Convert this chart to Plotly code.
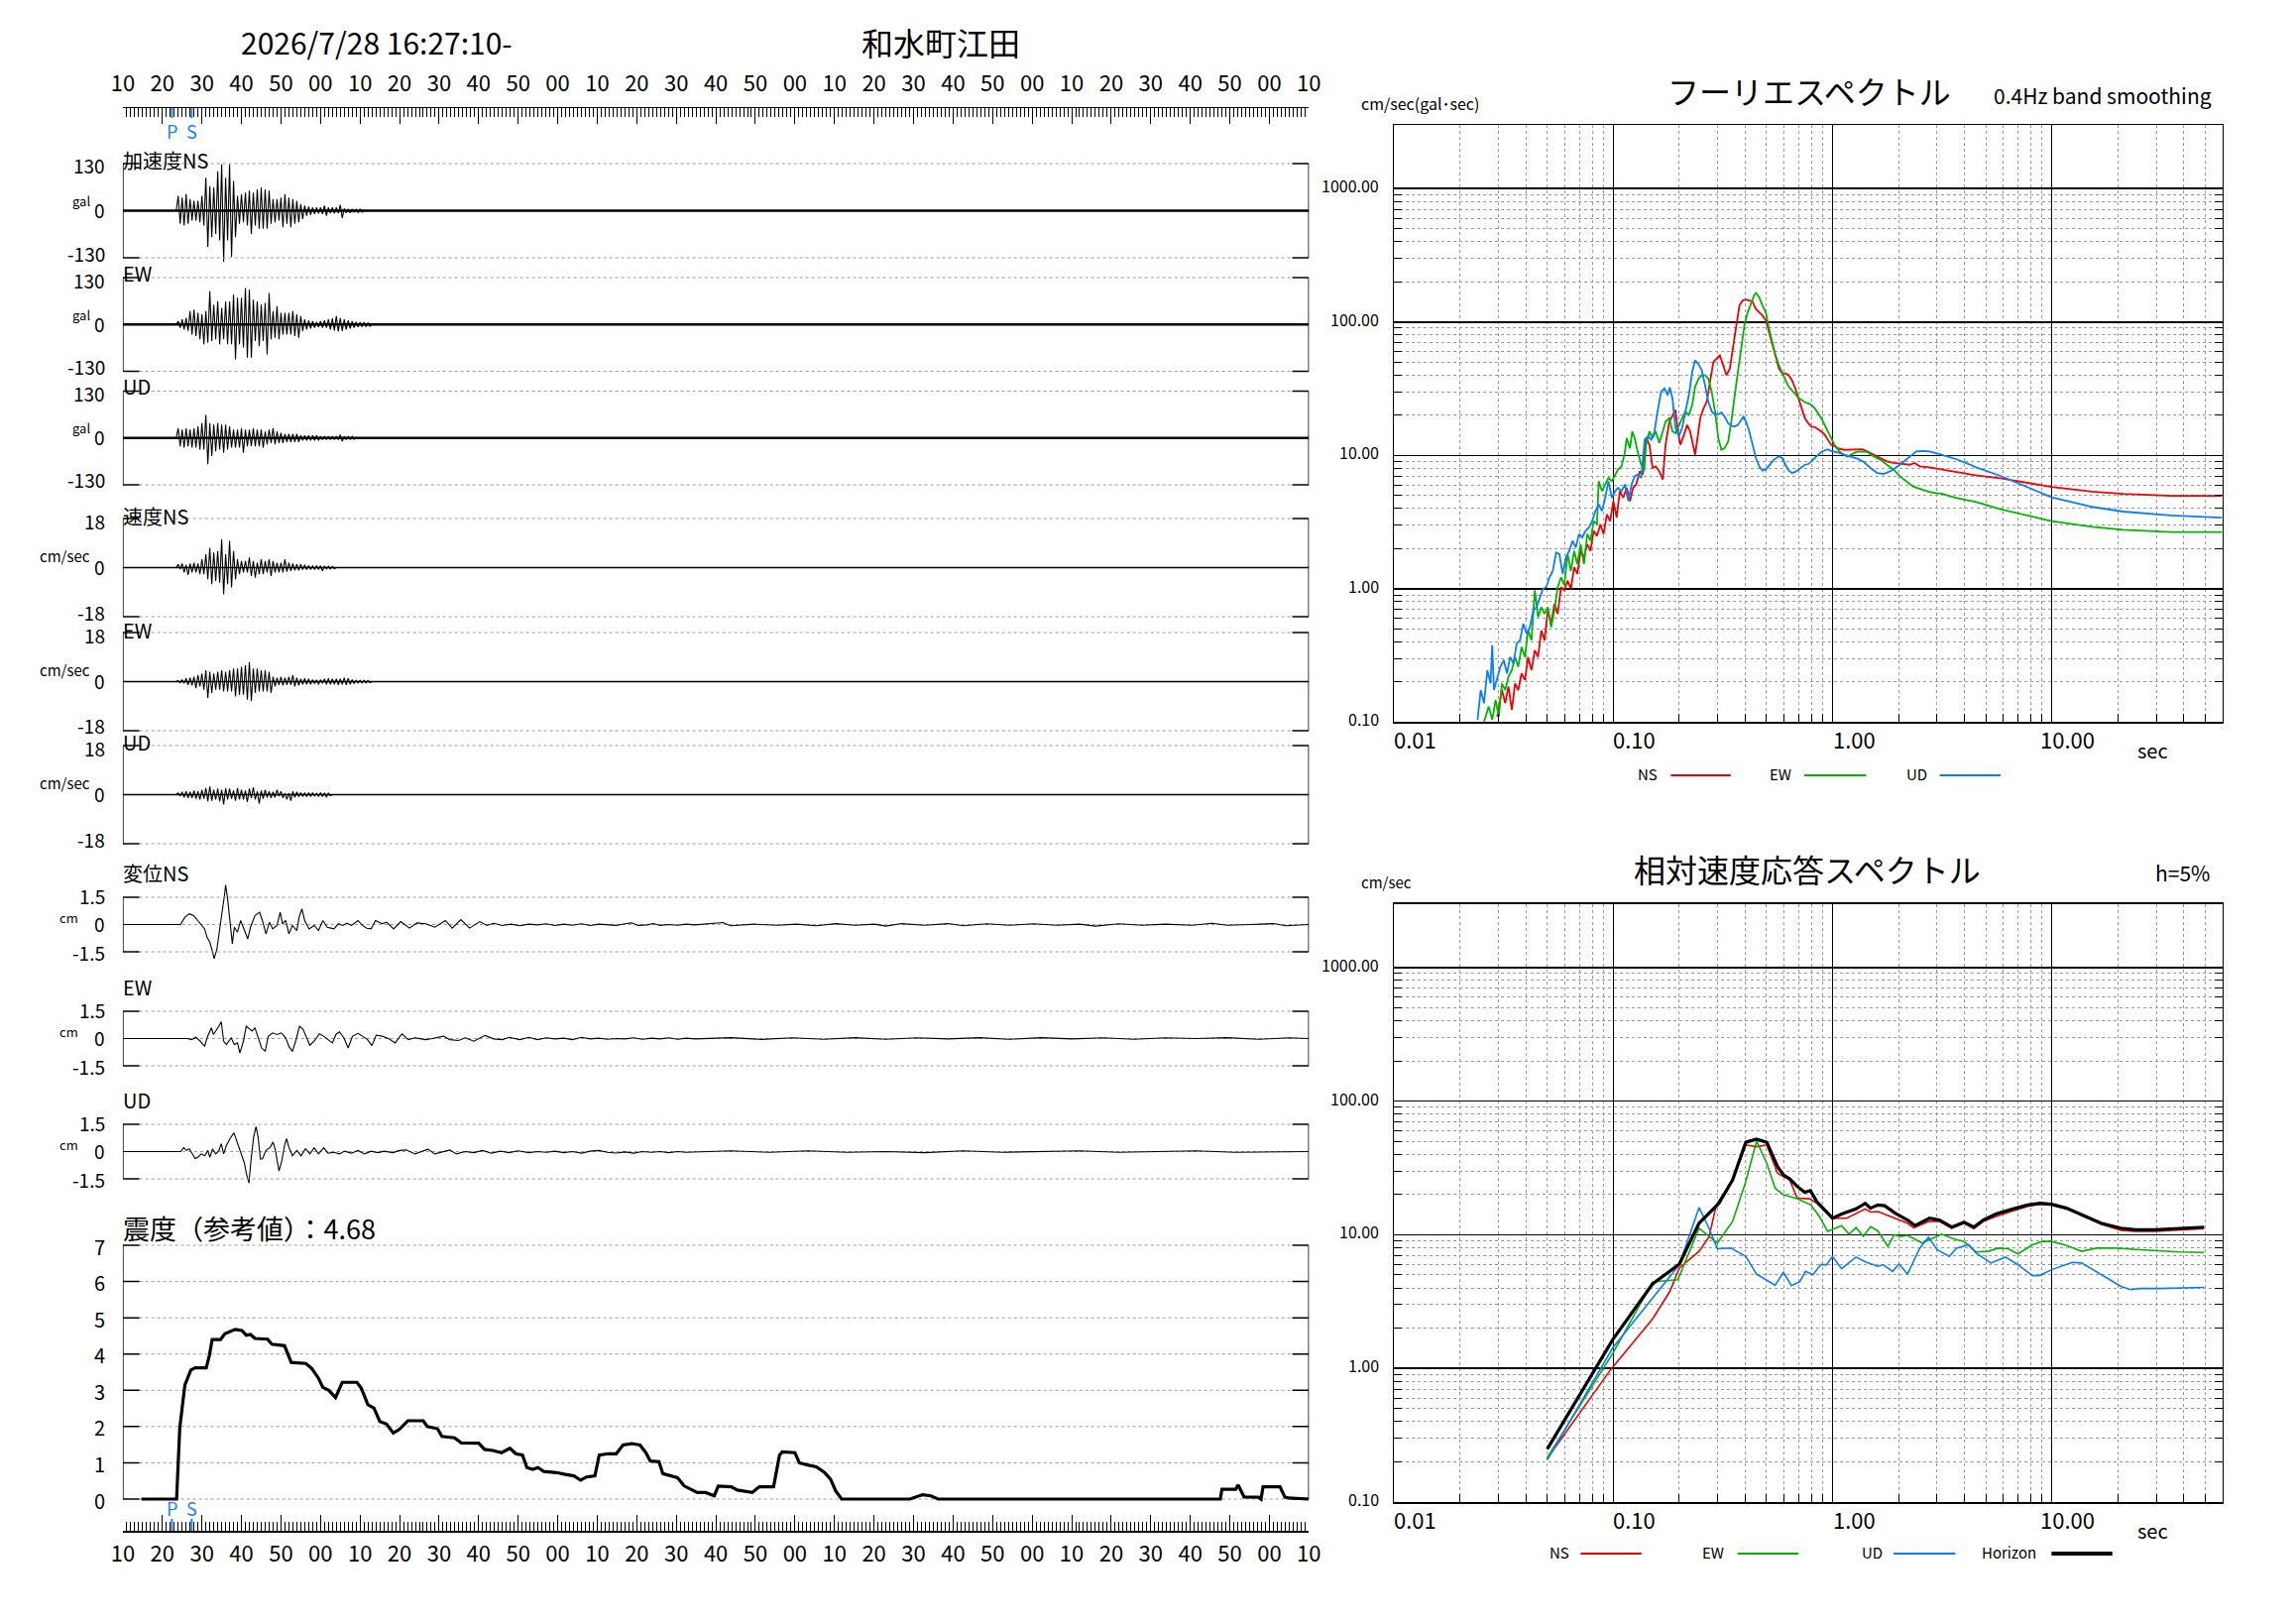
import math
import plotly.graph_objects as go

W, H = 2316, 1637          # browser window
OFF = 8                    # default body margin of the page
FW, FH = W - 2 * OFF, H - 2 * OFF
FONT = "Noto Sans CJK JP"

# ---------------- data ----------------
time_labels = ["10", "20", "30", "40", "50", "00"] * 5 + ["10"]   # 16:27:10 .. 16:32:10
p_arrival = 12.4   # s after 16:27:10
s_arrival = 17.4

burst_t0 = 14  # first second of the strong-motion part (peak per half second below)

acc_ns_hi = [41, 36, 46, 32, 27, 27, 41, 91, 68, 64, 109, 128, 91, 128, 82, 41, 46, 50, 55, 50, 59, 64, 59, 55,
             32, 32, 36, 46, 36, 32, 27, 18, 14, 11, 9, 9, 9, 14, 9, 9, 9, 16, 6, 5, 5, 4, 4]
acc_ns_lo = [-36, -41, -36, -27, -27, -32, -41, -100, -73, -64, -82, -141, -82, -128, -73, -36, -32, -41, -64, -41,
             -50, -50, -50, -36, -32, -27, -46, -36, -46, -36, -32, -23, -14, -11, -9, -8, -9, -14, -7, -8, -7, -20,
             -6, -6, -5, -5, -4]
acc_ew_hi = [9, 14, 18, 37, 41, 32, 28, 37, 92, 55, 64, 46, 64, 64, 83, 74, 74, 101, 97, 69, 64, 55, 60, 87, 37, 51,
             32, 32, 32, 37, 28, 23, 14, 11, 9, 7, 9, 11, 14, 17, 23, 18, 14, 11, 9, 7, 6, 6, 5]
acc_ew_lo = [-9, -14, -18, -28, -32, -41, -55, -51, -46, -41, -55, -41, -55, -55, -97, -55, -64, -92, -92, -46, -60,
             -46, -83, -41, -37, -41, -28, -28, -28, -32, -37, -18, -14, -11, -9, -7, -9, -9, -14, -17, -20, -18, -14,
             -11, -9, -7, -6, -6, -5]
acc_ud_hi = [27, 23, 27, 23, 27, 32, 41, 64, 41, 37, 41, 37, 37, 32, 23, 23, 27, 23, 23, 27, 23, 23, 18, 23, 27, 18,
             14, 11, 11, 11, 11, 7, 7, 7, 7, 7, 5, 5, 5, 5, 5, 9, 5, 4, 4]
acc_ud_lo = [-23, -27, -23, -27, -27, -32, -32, -73, -50, -37, -32, -41, -32, -27, -27, -27, -41, -23, -23, -23, -23,
             -27, -18, -14, -18, -14, -14, -11, -11, -11, -11, -7, -7, -7, -7, -7, -5, -5, -5, -5, -5, -9, -5, -4, -4]

vel_ns_hi = [1.2, 1.5, 1.0, 1.5, 1.8, 1.5, 3.1, 4.9, 7.3, 5.5, 6.1, 10.4, 4.9, 9.8, 6.1, 3.1, 2.4, 2.4, 3.7, 2.4,
             1.8, 3.1, 2.4, 3.1, 2.4, 1.8, 1.8, 3.1, 1.8, 1.5, 1.2, 1.2, 1.0, 0.7, 0.6, 0.6, 0.7, 0.6, 0.5, 0.4]
vel_ns_lo = [-0.6, -1.8, -2.7, -1.8, -1.8, -2.4, -2.4, -4.3, -6.1, -4.9, -5.5, -9.8, -6.1, -7.3, -4.3, -2.4, -1.8,
             -1.8, -3.1, -3.7, -2.4, -2.4, -1.8, -3.1, -1.8, -1.8, -1.8, -1.5, -1.2, -1.0, -1.0, -0.7, -0.7, -0.6,
             -0.6, -0.6, -1.2, -0.5, -0.5, -0.4]
vel_ew_hi = [0.4, 0.6, 1.2, 1.4, 1.8, 2.4, 3.0, 4.2, 3.6, 3.0, 3.6, 4.2, 3.6, 4.2, 4.8, 4.8, 5.4, 6.0, 7.2, 4.8,
             4.8, 4.2, 4.2, 3.6, 1.8, 1.4, 1.8, 1.4, 1.8, 2.4, 1.4, 1.0, 1.2, 1.0, 0.7, 0.6, 0.7, 1.0, 1.2, 1.0,
             1.0, 1.0, 1.4, 1.2, 0.7, 0.5, 0.5, 0.5, 0.4]
vel_ew_lo = [-0.4, -0.6, -1.2, -1.4, -2.4, -1.8, -3.0, -6.0, -4.2, -3.0, -3.0, -3.6, -3.6, -3.6, -5.4, -4.8, -4.8,
             -6.6, -7.2, -4.2, -3.6, -3.6, -3.6, -4.2, -1.8, -1.2, -1.4, -1.2, -1.2, -1.8, -1.4, -1.0, -1.0, -1.0,
             -0.7, -1.0, -0.6, -1.0, -1.0, -1.0, -1.2, -1.0, -1.2, -1.0, -0.7, -0.5, -0.5, -0.5, -0.4]
vel_ud_hi = [0.6, 1.0, 1.2, 1.0, 1.5, 1.2, 1.8, 2.4, 3.0, 1.8, 2.2, 1.8, 2.4, 2.2, 1.5, 2.4, 1.8, 1.5, 2.2, 2.7,
             1.2, 1.5, 1.8, 1.2, 1.0, 1.8, 1.2, 0.6, 0.6, 1.2, 1.0, 0.7, 0.6, 0.7, 0.6, 0.5, 0.7, 0.6, 0.5]
vel_ud_lo = [-0.5, -1.0, -1.2, -1.2, -1.5, -1.8, -1.5, -2.4, -2.2, -1.8, -2.4, -3.6, -1.8, -1.5, -2.2, -1.8, -1.8,
             -2.7, -1.2, -1.8, -3.3, -1.5, -1.0, -1.2, -1.0, -0.6, -1.2, -1.8, -2.2, -1.0, -0.7, -0.6, -0.7, -0.6,
             -0.5, -0.6, -0.7, -1.0, -0.4]

# displacement (time s, cm)
disp_ns = [(0, 0), (14.6, 0), (15.7, 0.40), (16.8, 0.59), (17.9, 0.49), (19.0, 0.22), (19.8, 0.04), (20.7, -0.24),
           (21.3, -0.70), (22.0, -0.97), (22.7, -1.52), (23.1, -1.88), (23.8, -1.34), (24.6, -0.24), (25.1, 0.68),
           (25.7, 1.59), (26.0, 2.18), (26.5, 1.41), (27.0, 0.31), (27.7, -1.06), (28.2, -0.15), (29.0, -0.42),
           (29.8, 0.22), (30.7, -0.24), (31.6, -0.79), (32.3, -0.15), (33.4, 0.49), (34.6, 0.68), (35.3, 0.22),
           (36.2, -0.51), (37.1, 0.13), (37.9, -0.24), (39.0, -0.05), (39.8, 0.68), (40.4, 0.04), (41.2, 0.22),
           (42.0, -0.51), (42.9, -0.05), (44.0, -0.33), (44.6, 0.40), (45.3, 0.86), (46.0, 0.22), (47.1, -0.24),
           (48.4, -0.05), (49.5, -0.33), (50.6, 0.22), (51.7, -0.15), (53.4, -0.24), (54.5, 0.04), (55.6, -0.05),
           (56.7, 0.07), (57.8, -0.05), (59.5, 0.22), (60.6, -0.05), (61.7, -0.20), (62.8, -0.24), (63.9, 0.22),
           (65.6, 0.04), (66.7, 0.13), (68.5, -0.24), (70.3, 0.16), (72.5, -0.20), (74.4, 0.09), (76.6, 0.04),
           (78.9, -0.15), (81.6, 0.22), (83.3, -0.20), (85.5, 0.27), (87.7, -0.20), (90.3, 0.16), (92.1, -0.05),
           (93.8, 0.07), (96.0, -0.05), (98.2, 0.02), (100.4, -0.07), (102.7, 0.02), (104.9, -0.02), (107.1, 0.04),
           (109.3, -0.05), (111.5, 0.02), (113.7, -0.04), (116.0, 0.04), (118.2, -0.05), (120.4, 0.02),
           (122.6, -0.02), (124.8, -0.05), (127.0, 0.04), (128.7, 0.09), (130.3, -0.05), (132.6, -0.02),
           (134.2, 0.05), (135.9, -0.05), (138.1, 0), (140.3, -0.04), (142.5, 0.02), (144.7, -0.02), (151.8, 0.11),
           (153.7, -0.07), (159.7, 0.02), (165.5, -0.04), (170.5, 0.02), (175.4, -0.07), (180.3, 0.05),
           (185.2, -0.04), (190.1, 0.02), (193.0, -0.09), (197.0, 0.05), (202.8, -0.04), (208.7, 0.05),
           (212.6, -0.07), (218.5, 0.04), (224.4, -0.04), (230.3, 0.04), (236.2, -0.04), (242.0, 0.02),
           (246.0, -0.09), (251.9, 0.04), (257.8, -0.04), (263.7, 0.02), (270.5, -0.04), (275.5, 0.07),
           (279.4, -0.04), (285.2, 0), (291.1, 0.05), (294.1, -0.07), (300, 0)]
disp_ew = [(0, 0), (16.3, 0), (17.4, -0.06), (18.5, 0.07), (19.6, -0.15), (20.7, -0.43), (21.3, 0.04), (21.8, 0.31),
           (22.4, 0.59), (22.9, 0.22), (23.5, 0.41), (24.3, 0.68), (24.9, 0.93), (25.5, -0.15), (26.2, -0.33),
           (27.4, 0.04), (28.2, -0.33), (29.0, -0.24), (29.6, -0.80), (30.5, -0.15), (31.2, 0.68), (31.8, 0.59),
           (32.7, 0.41), (33.4, 0.59), (34.2, 0.04), (35.1, -0.52), (36.0, -0.70), (36.8, 0.13), (37.9, 0.31),
           (39.0, 0.22), (40.1, 0.31), (41.2, 0.04), (42.0, -0.43), (42.9, -0.70), (43.7, -0.15), (44.7, 0.68),
           (45.6, 0.50), (46.4, 0.04), (47.3, -0.37), (48.4, -0.15), (49.7, 0.26), (50.8, 0.13), (51.9, -0.06),
           (53.0, -0.24), (53.9, 0.22), (54.8, 0.37), (55.9, 0.04), (57.0, -0.52), (58.1, 0.13), (59.5, 0.28),
           (60.6, 0.13), (61.9, -0.06), (63.0, -0.39), (64.1, 0.19), (65.6, 0.13), (67.2, 0), (68.9, -0.24),
           (70.6, 0.26), (72.2, -0.06), (73.9, 0.04), (75.5, -0.02), (76.6, -0.06), (78.3, 0), (81.1, 0.13),
           (82.7, -0.06), (84.9, -0.11), (86.6, 0.04), (88.8, -0.15), (91.6, 0.17), (93.8, -0.02), (96.0, -0.06),
           (97.7, 0.07), (100.4, -0.06), (102.7, 0.07), (104.9, -0.06), (107.1, 0.04), (109.3, -0.02),
           (111.5, 0.02), (113.7, -0.06), (116.0, 0.07), (118.2, -0.02), (120.4, 0.02), (122.6, -0.04),
           (124.8, 0), (127.0, -0.02), (129.2, 0.04), (131.4, -0.04), (133.7, 0.02), (135.9, -0.02), (138.1, 0.04),
           (140.3, -0.04), (142.5, 0.02), (144.7, -0.02), (153.7, 0.05), (161.6, -0.05), (169.4, 0.04),
           (177.3, -0.04), (185.2, 0.05), (193.0, -0.04), (200.9, 0.04), (208.7, -0.02), (216.6, 0.05),
           (224.4, -0.04), (232.3, 0.05), (240.1, -0.02), (248.0, 0.04), (255.8, -0.04), (263.7, 0.04),
           (271.5, 0), (279.4, 0.05), (287.2, -0.04), (295.1, 0.04), (300, 0)]
disp_ud = [(0, 0), (14.6, 0), (15.4, 0.21), (16.1, 0.06), (16.8, 0.15), (17.6, -0.13), (18.3, -0.38), (19.0, -0.32),
           (19.8, -0.13), (20.7, -0.23), (21.5, 0.06), (22.0, -0.32), (22.7, 0.15), (23.5, -0.13), (24.3, 0.06),
           (24.9, 0.43), (25.5, -0.13), (26.2, 0.34), (27.1, 0.71), (28.1, 1.03), (29.0, 0.43), (29.8, -0.13),
           (30.7, -0.60), (31.3, -1.26), (31.9, -1.73), (32.4, -0.51), (33.1, 0.81), (33.7, 1.37), (34.2, 0.81),
           (34.8, -0.41), (35.3, -0.41), (36.2, 0.06), (37.3, 0.24), (38.0, 0.53), (38.6, 0.06), (39.5, -1.07),
           (40.2, -0.51), (40.9, 0.34), (41.4, 0.71), (42.0, 0.24), (42.9, -0.23), (44.0, 0.06), (45.1, -0.23),
           (46.2, 0.15), (47.3, -0.13), (48.4, 0.21), (49.5, -0.13), (50.8, 0.21), (51.9, -0.09), (53.4, -0.04),
           (54.8, -0.13), (56.1, 0.02), (57.8, -0.09), (59.5, 0.06), (61.1, -0.13), (62.8, 0.02), (64.5, -0.06),
           (66.1, 0.02), (68.3, -0.06), (70.0, 0.06), (71.7, 0.09), (73.9, -0.13), (75.5, -0.02), (77.2, 0.13),
           (78.9, -0.13), (81.1, 0.02), (82.7, 0.09), (84.4, -0.13), (86.6, 0), (88.8, -0.06), (91.0, 0.06),
           (93.2, -0.09), (95.5, 0.02), (97.7, -0.06), (99.9, 0.04), (102.7, -0.06), (104.9, 0), (107.1, -0.04),
           (109.3, 0.02), (111.5, -0.06), (113.7, 0), (116.0, -0.09), (118.2, 0.02), (120.4, 0.06), (122.6, -0.04),
           (124.8, -0.08), (127.0, -0.02), (129.2, -0.09), (131.4, 0), (133.7, -0.04), (135.9, 0), (138.1, -0.06),
           (140.3, 0), (142.5, -0.04), (144.7, -0.02), (153.7, 0.04), (163.6, -0.04), (173.3, 0.04),
           (183.2, -0.04), (193.0, 0), (202.8, -0.06), (212.6, 0.04), (222.5, -0.04), (232.3, 0), (242.0, 0.04),
           (251.9, -0.04), (261.7, 0), (271.5, 0.04), (281.3, -0.04), (291.1, 0), (300, 0)]

# real-time seismic intensity
intensity_label = "震度（参考値）：4.68"
intensity_t = [4.7, 13.6, 14.4, 15.7, 17.2, 18.3, 21.1, 21.9, 22.6, 24.7, 25.8, 27.5, 28.4, 30.1, 31.2, 32.3, 33.4,
               36.6, 37.7, 40.9, 42.6, 46.3, 47.8, 49.5, 50.6, 52.1, 53.8, 55.5, 59.2, 60.3, 62.0, 63.5, 65.0, 66.7,
               68.4, 69.9, 72.1, 76.0, 77.0, 79.6, 80.7, 83.9, 85.6, 90.0, 91.5, 93.6, 95.8, 97.9, 99.4, 101.1,
               102.2, 103.7, 105.0, 106.5, 109.7, 111.9, 114.1, 115.8, 117.3, 119.4, 120.5, 122.7, 124.8, 126.5,
               128.7, 130.8, 132.3, 133.4, 135.6, 136.6, 138.8, 140.3, 142.0, 144.2, 145.3, 147.4, 149.6, 150.6,
               153.9, 155.4, 157.5, 159.2, 161.0, 164.6, 166.1, 166.8, 170.0, 171.1, 173.2, 175.4, 177.5, 179.0,
               180.3, 181.8, 199.1, 200.6, 202.3, 204.4, 206.2, 277.6, 278.0, 281.5, 282.1, 283.6, 287.3, 287.9,
               288.4, 292.7, 293.9, 294.8, 300]
intensity_v = [0, 0, 1.96, 3.15, 3.56, 3.62, 3.62, 3.97, 4.40, 4.40, 4.56, 4.65, 4.68, 4.65, 4.52, 4.54, 4.43, 4.41,
               4.27, 4.23, 3.77, 3.74, 3.60, 3.33, 3.08, 3.00, 2.80, 3.22, 3.22, 3.06, 2.60, 2.51, 2.14, 2.07, 1.82,
               1.92, 2.16, 2.16, 2.00, 1.94, 1.73, 1.69, 1.55, 1.54, 1.37, 1.34, 1.28, 1.40, 1.25, 1.21, 0.87, 0.82,
               0.87, 0.76, 0.73, 0.68, 0.64, 0.52, 0.61, 0.64, 1.21, 1.25, 1.25, 1.49, 1.53, 1.49, 1.28, 1.05, 1.03,
               0.70, 0.64, 0.59, 0.36, 0.25, 0.18, 0.18, 0.09, 0.36, 0.34, 0.25, 0.21, 0.18, 0.34, 0.34, 1.21, 1.30,
               1.28, 1.00, 0.94, 0.89, 0.73, 0.55, 0.23, 0, 0, 0.06, 0.12, 0.09, 0, 0, 0.27, 0.27, 0.39, 0.06, 0.05,
               0, 0.34, 0.34, 0.06, 0.03, 0]

# Fourier spectra (period s, cm/sec)
fourier_ns = [(0.0295, 0.110), (0.0310, 0.174), (0.0321, 0.139), (0.0332, 0.185), (0.0344, 0.124), (0.0356, 0.195),
              (0.0368, 0.174), (0.0381, 0.232), (0.0395, 0.207), (0.0408, 0.308), (0.0423, 0.245), (0.0438, 0.346),
              (0.0453, 0.308), (0.0469, 0.488), (0.0485, 0.411), (0.0502, 0.687), (0.0520, 0.547), (0.0538, 0.771),
              (0.0557, 0.649), (0.0577, 1.03), (0.0597, 0.975), (0.0618, 1.15), (0.0640, 1.00), (0.0662, 1.45),
              (0.0685, 1.29), (0.0709, 1.92), (0.0734, 1.72), (0.0760, 2.16), (0.0786, 1.92), (0.0813, 2.72),
              (0.0842, 2.49), (0.0872, 3.04), (0.0902, 2.57), (0.0934, 3.61), (0.0967, 3.22), (0.100, 4.54),
              (0.1035, 3.41), (0.107, 5.40), (0.111, 4.81), (0.115, 5.71), (0.119, 4.54), (0.123, 5.71),
              (0.127, 6.04), (0.132, 7.60), (0.136, 7.18), (0.141, 13.5), (0.146, 12.0), (0.151, 8.05),
              (0.156, 8.28), (0.162, 7.60), (0.168, 6.59), (0.173, 12.0), (0.180, 17.9), (0.186, 20.1),
              (0.192, 21.9), (0.197, 15.1), (0.202, 12.0), (0.210, 14.3), (0.217, 16.9), (0.224, 15.1),
              (0.232, 11.3), (0.236, 10.1), (0.242, 13.5), (0.249, 19.0), (0.258, 22.5), (0.267, 25.3),
              (0.276, 35.6), (0.286, 50.2), (0.296, 53.1), (0.306, 56.2), (0.317, 47.4), (0.328, 39.9),
              (0.340, 44.8), (0.352, 63.1), (0.364, 94.2), (0.376, 133), (0.389, 145), (0.403, 147), (0.417, 145),
              (0.432, 141), (0.447, 125), (0.463, 118), (0.479, 112), (0.496, 103), (0.513, 84.0), (0.531, 66.8),
              (0.550, 53.1), (0.569, 44.8), (0.589, 41.1), (0.610, 41.1), (0.631, 39.9), (0.653, 36.6),
              (0.676, 31.8), (0.700, 26.7), (0.723, 21.9), (0.748, 19.0), (0.775, 17.4), (0.802, 16.4),
              (0.830, 16.3), (0.859, 15.8), (0.889, 15.1), (0.921, 14.3), (0.953, 13.1), (0.986, 12.0),
              (1.02, 11.7), (1.06, 11.3), (1.13, 11.0), (1.21, 11.0), (1.30, 11.0), (1.37, 11.1), (1.44, 10.7),
              (1.54, 10.1), (1.65, 9.55), (1.77, 9.02), (1.90, 8.77), (2.03, 8.67), (2.25, 8.51), (2.37, 8.77),
              (2.50, 8.28), (2.77, 8.14), (3.07, 7.91), (3.40, 7.69), (3.78, 7.47), (4.19, 7.26), (4.49, 7.10),
              (5.84, 6.74), (10.0, 5.80), (15.3, 5.35), (21.2, 5.14), (35.3, 4.97), (60.0, 4.97)]
fourier_ew = [(0.0257, 0.101), (0.0270, 0.131), (0.0280, 0.104), (0.0290, 0.147), (0.0300, 0.110), (0.0310, 0.195),
              (0.0321, 0.174), (0.0332, 0.219), (0.0344, 0.245), (0.0356, 0.308), (0.0368, 0.260), (0.0381, 0.366),
              (0.0395, 0.308), (0.0408, 0.488), (0.0423, 0.411), (0.0438, 0.975), (0.0453, 0.614), (0.0469, 0.728),
              (0.0485, 0.649), (0.0502, 0.728), (0.0520, 0.516), (0.0538, 0.687), (0.0557, 1.03), (0.0577, 1.22),
              (0.0597, 1.06), (0.0618, 1.82), (0.0640, 1.36), (0.0662, 1.92), (0.0685, 1.53), (0.0709, 2.16),
              (0.0734, 1.53), (0.0760, 2.57), (0.0786, 2.29), (0.0813, 3.22), (0.0842, 3.04), (0.0857, 6.40),
              (0.0887, 5.40), (0.0918, 6.04), (0.0950, 6.78), (0.0984, 6.40), (0.102, 7.18), (0.105, 7.82),
              (0.109, 8.28), (0.113, 10.7), (0.115, 13.5), (0.119, 11.3), (0.122, 15.1), (0.125, 13.5),
              (0.129, 10.7), (0.134, 8.51), (0.138, 7.60), (0.141, 12.0), (0.146, 15.1), (0.151, 13.5),
              (0.156, 15.1), (0.162, 12.4), (0.168, 15.1), (0.173, 17.9), (0.180, 19.0), (0.186, 15.1),
              (0.192, 14.7), (0.199, 16.9), (0.206, 19.0), (0.213, 21.3), (0.221, 20.1), (0.229, 23.9),
              (0.236, 32.7), (0.245, 37.7), (0.253, 39.9), (0.262, 39.9), (0.271, 37.7), (0.281, 30.0),
              (0.291, 21.3), (0.301, 13.5), (0.311, 11.0), (0.322, 11.3), (0.334, 12.7), (0.345, 17.9),
              (0.357, 28.3), (0.370, 42.3), (0.383, 63.1), (0.396, 94.2), (0.410, 118), (0.425, 141), (0.439, 159),
              (0.447, 165), (0.463, 153), (0.479, 133), (0.496, 118), (0.513, 88.9), (0.531, 70.8), (0.550, 56.2),
              (0.569, 47.4), (0.589, 41.1), (0.610, 36.6), (0.631, 32.7), (0.653, 30.8), (0.676, 29.2),
              (0.700, 27.0), (0.723, 26.0), (0.748, 25.0), (0.775, 24.5), (0.802, 23.9), (0.830, 22.5),
              (0.859, 20.7), (0.889, 19.0), (0.921, 16.9), (0.953, 15.1), (0.986, 13.5), (1.02, 12.0),
              (1.06, 11.0), (1.09, 10.5), (1.13, 10.1), (1.17, 9.78), (1.21, 10.1), (1.28, 10.6), (1.34, 10.7),
              (1.44, 10.6), (1.54, 9.84), (1.65, 9.29), (1.77, 8.51), (1.90, 7.82), (2.03, 6.97), (2.18, 6.32),
              (2.33, 5.84), (2.59, 5.52), (2.77, 5.33), (2.97, 5.21), (3.18, 5.15), (3.40, 4.98), (3.65, 4.81),
              (4.04, 4.65), (4.49, 4.49), (5.84, 3.95), (10.0, 3.21), (15.3, 2.91), (21.2, 2.77), (35.0, 2.66),
              (60.0, 2.66)]
fourier_ud = [(0.0240, 0.104), (0.0248, 0.174), (0.0257, 0.139), (0.0266, 0.245), (0.0275, 0.195), (0.0280, 0.377),
              (0.0285, 0.174), (0.0295, 0.219), (0.0305, 0.260), (0.0316, 0.292), (0.0327, 0.232), (0.0338, 0.308),
              (0.0350, 0.275), (0.0362, 0.388), (0.0375, 0.411), (0.0388, 0.547), (0.0402, 0.461), (0.0416, 0.516),
              (0.0431, 0.687), (0.0446, 0.728), (0.0461, 0.865), (0.0477, 1.00), (0.0494, 1.03), (0.0511, 1.22),
              (0.0529, 1.36), (0.0548, 1.87), (0.0567, 1.82), (0.0587, 1.29), (0.0607, 1.72), (0.0629, 1.92),
              (0.0651, 2.29), (0.0673, 2.04), (0.0697, 2.57), (0.0721, 2.42), (0.0747, 2.72), (0.0773, 2.87),
              (0.0800, 3.22), (0.0828, 3.83), (0.0857, 4.29), (0.0887, 3.83), (0.0918, 4.81), (0.0950, 6.40),
              (0.0984, 4.81), (0.102, 5.40), (0.105, 5.71), (0.109, 5.40), (0.113, 6.04), (0.117, 4.54),
              (0.121, 6.04), (0.125, 6.97), (0.129, 7.18), (0.134, 6.78), (0.139, 13.1), (0.144, 13.9),
              (0.149, 13.1), (0.154, 15.1), (0.159, 21.3), (0.165, 30.0), (0.171, 31.8), (0.177, 28.3),
              (0.181, 32.3), (0.186, 26.7), (0.192, 16.1), (0.199, 13.9), (0.206, 16.1), (0.213, 21.3),
              (0.221, 28.3), (0.229, 42.3), (0.236, 51.6), (0.245, 48.0), (0.253, 43.5), (0.262, 33.6),
              (0.271, 25.3), (0.281, 21.3), (0.291, 20.1), (0.301, 20.3), (0.311, 21.0), (0.322, 19.5),
              (0.334, 17.4), (0.345, 16.7), (0.357, 16.4), (0.370, 16.9), (0.383, 18.5), (0.392, 19.5),
              (0.403, 17.9), (0.417, 15.1), (0.432, 12.0), (0.447, 9.55), (0.463, 8.28), (0.479, 7.69),
              (0.496, 7.82), (0.513, 8.42), (0.540, 9.29), (0.569, 9.84), (0.589, 9.55), (0.610, 8.51),
              (0.631, 7.69), (0.653, 7.38), (0.676, 7.52), (0.700, 7.82), (0.723, 8.14), (0.748, 8.51),
              (0.775, 8.61), (0.802, 9.02), (0.830, 9.55), (0.859, 10.1), (0.889, 10.6), (0.921, 10.9),
              (0.953, 11.1), (0.986, 10.8), (1.06, 10.5), (1.13, 10.1), (1.21, 9.78), (1.30, 9.44), (1.39, 8.92),
              (1.49, 8.05), (1.60, 7.38), (1.71, 7.26), (1.83, 7.60), (1.96, 8.14), (2.10, 8.92), (2.25, 9.78),
              (2.41, 10.7), (2.59, 10.8), (2.77, 10.7), (2.97, 10.4), (3.18, 10.1), (3.40, 9.72), (3.65, 9.39),
              (3.91, 9.02), (4.19, 8.61), (4.49, 8.18), (5.84, 7.02), (10.0, 4.85), (15.3, 4.11), (21.2, 3.79),
              (35.0, 3.55), (60.0, 3.41)]

# relative velocity response spectra, h=5% (period s, cm/sec)
resp_ns = [(0.0499, 0.212), (0.0974, 0.984), (0.151, 2.35), (0.181, 3.77), (0.200, 5.64), (0.246, 7.52),
           (0.273, 9.61), (0.295, 16.7), (0.350, 25.7), (0.402, 47.0), (0.450, 45.6), (0.501, 47.0), (0.561, 28.8),
           (0.597, 27.2), (0.638, 25.7), (0.690, 18.8), (0.785, 18.6), (0.848, 17.2), (0.940, 14.5), (1.00, 13.3),
           (1.16, 13.3), (1.28, 14.5), (1.41, 15.6), (1.49, 14.8), (1.61, 14.9), (1.84, 13.7), (2.20, 12.2),
           (2.35, 11.3), (2.77, 12.6), (3.07, 12.6), (3.50, 11.2), (3.98, 12.2), (4.41, 11.1), (4.89, 12.6),
           (5.56, 13.7), (6.66, 15.1), (7.77, 16.3), (8.84, 16.9), (10.0, 16.7), (11.7, 15.6), (13.7, 13.9),
           (16.8, 12.0), (20.7, 10.8), (24.1, 10.6), (29.6, 10.6), (36.4, 10.8), (42.5, 11.0), (49.6, 11.1)]
resp_ew = [(0.0499, 0.215), (0.0995, 1.30), (0.151, 4.44), (0.197, 4.61), (0.246, 11.2), (0.298, 8.67),
           (0.350, 12.6), (0.402, 25.0), (0.450, 50.2), (0.501, 34.3), (0.547, 22.3), (0.597, 19.9), (0.690, 18.6),
           (0.797, 16.7), (0.871, 13.7), (0.950, 10.6), (1.10, 11.7), (1.19, 10.1), (1.28, 11.3), (1.38, 9.72),
           (1.49, 11.5), (1.61, 10.7), (1.79, 8.18), (1.91, 10.0), (2.04, 9.72), (2.20, 9.89), (2.57, 8.67),
           (3.15, 10.1), (3.59, 9.29), (3.98, 8.91), (4.52, 7.43), (5.14, 7.52), (5.70, 7.94), (6.32, 7.86),
           (7.01, 7.18), (8.18, 8.42), (9.06, 8.91), (10.0, 8.91), (11.7, 8.32), (13.7, 7.52), (16.0, 7.94),
           (19.6, 7.94), (25.4, 7.73), (31.2, 7.60), (38.4, 7.43), (49.6, 7.38)]
resp_ud = [(0.0499, 0.206), (0.0995, 1.43), (0.200, 5.97), (0.246, 16.0), (0.273, 11.2), (0.298, 7.86),
           (0.344, 7.94), (0.402, 6.88), (0.450, 5.08), (0.547, 4.19), (0.597, 5.24), (0.649, 4.16), (0.708, 4.44),
           (0.753, 5.32), (0.814, 5.02), (0.884, 5.97), (0.940, 5.97), (1.00, 6.88), (1.10, 5.57), (1.28, 6.81),
           (1.42, 6.25), (1.61, 5.81), (1.70, 5.97), (1.88, 5.32), (2.01, 6.04), (2.20, 5.08), (2.50, 7.94),
           (2.74, 9.61), (3.00, 7.73), (3.41, 6.88), (3.68, 7.94), (4.19, 8.42), (4.52, 7.30), (5.28, 6.15),
           (6.16, 6.81), (7.01, 5.97), (8.18, 4.94), (8.84, 4.97), (10.0, 5.48), (12.4, 6.22), (13.7, 6.15),
           (16.8, 5.02), (20.7, 4.11), (22.9, 3.89), (25.4, 3.96), (31.2, 3.96), (38.4, 4.00), (49.6, 4.04)]
resp_h = [(0.0499, 0.249), (0.0995, 1.65), (0.151, 4.29), (0.200, 6.04), (0.246, 12.2), (0.303, 17.2),
          (0.350, 25.7), (0.402, 49.2), (0.450, 52.0), (0.501, 49.2), (0.561, 32.4), (0.597, 28.0), (0.638, 26.2),
          (0.690, 23.0), (0.745, 20.8), (0.793, 21.4), (0.848, 17.7), (0.940, 14.9), (1.00, 13.3), (1.10, 14.3),
          (1.28, 15.6), (1.41, 17.2), (1.49, 15.8), (1.61, 16.7), (1.73, 16.5), (1.93, 14.5), (2.20, 12.9),
          (2.38, 11.7), (2.77, 13.3), (3.07, 12.9), (3.50, 11.4), (3.98, 12.4), (4.41, 11.4), (4.89, 12.9),
          (5.56, 14.3), (6.66, 15.6), (7.77, 16.7), (8.84, 17.2), (10.0, 16.9), (11.7, 15.8), (13.7, 14.1),
          (16.8, 12.2), (20.7, 11.2), (24.1, 10.9), (29.6, 10.9), (36.4, 11.1), (42.5, 11.2), (49.6, 11.4)]

period_ticks = [0.01, 0.1, 1, 10]
period_ticktext = ["0.01", "0.10", "1.00", "10.00"]
amp_ticks = [0.1, 1, 10, 100, 1000]
amp_ticktext = ["0.10", "1.00", "10.00", "100.00", "1000.00"]

RED, GREEN, BLUE, PSBLUE = "#f00000", "#00b400", "#0a7cff", "#1e82f0"
GRID = "#9a9a9a"


# ---------------- helpers (positions given in window pixels) ----------------
def fx(p):
    return (p - OFF) / FW


def fy(p):
    return 1 - (p - OFF) / FH


def burst(hi, lo, t0=burst_t0):
    xs, ys = [0, t0 - 0.5], [0, 0]
    for i, (a, b) in enumerate(zip(hi, lo)):
        xs += [t0 + i, t0 + i + 0.5]
        ys += [a, b]
    xs += [t0 + len(hi), 300]
    ys += [0, 0]
    return xs, ys


def unzip(pairs):
    return [p[0] for p in pairs], [p[1] for p in pairs]


fig = go.Figure()
layout = {}
shapes = []
annotations = []


def text(x, y, s, size=20, xanchor="center", yanchor="middle", color="black", xref="paper", yref="paper", **kw):
    annotations.append(dict(x=x, y=y, xref=xref, yref=yref, text=s, showarrow=False, xanchor=xanchor,
                            yanchor=yanchor, font=dict(size=size, color=color, family=FONT), **kw))


def hline(yref, y, x0, x1, color="black", width=1.5, dash="solid", layer="above"):
    shapes.append(dict(type="line", xref="x", yref=yref, x0=x0, x1=x1, y0=y, y1=y, layer=layer,
                       line=dict(color=color, width=width, dash=dash)))


def vline(yref, x, y0, y1, color="black", width=1.5):
    shapes.append(dict(type="line", xref="x", yref=yref, x0=x, x1=x, y0=y0, y1=y1,
                       line=dict(color=color, width=width)))


LEFT, RIGHT = 113, 1322
TL = 4.2  # solid end tick length in seconds

layout["xaxis"] = dict(domain=[fx(LEFT), fx(RIGHT)], range=[0, 300], visible=False, anchor="y", fixedrange=True)

# ---------------- waveform panels ----------------
K = 1.6
panels = [
    ("y", 165, 260, 130, "130", "gal", 13, -10, "加速度NS", -4, 2.4, burst(acc_ns_hi, acc_ns_lo)),
    ("y2", 280, 374.5, 130, "130", "gal", 13, -10, "EW", -5, 2.4, burst(acc_ew_hi, acc_ew_lo)),
    ("y3", 394.5, 489, 130, "130", "gal", 13, -10, "UD", -5, 2.4, burst(acc_ud_hi, acc_ud_lo)),
    ("y4", 523, 622, 18, "18", "cm/sec", 15, -12, "速度NS", -3, 1.6, burst(vel_ns_hi, vel_ns_lo)),
    ("y5", 638, 737, 18, "18", "cm/sec", 15, -12, "EW", -3, 1.6, burst(vel_ew_hi, vel_ew_lo)),
    ("y6", 752, 851, 18, "18", "cm/sec", 15, -12, "UD", -3, 1.6, burst(vel_ud_hi, vel_ud_lo)),
    ("y7", 905, 960, 1.5, "1.5", "cm", 13, -7, "変位NS", -25, 0, unzip(disp_ns)),
    ("y8", 1020, 1075, 1.5, "1.5", "cm", 13, -7, "EW", -25, 0, unzip(disp_ew)),
    ("y9", 1134, 1189, 1.5, "1.5", "cm", 13, -7, "UD", -25, 0, unzip(disp_ud)),
]

for ax, top, bot, amp, lab, unit, usize, udy, name, ndy, zw, (xs, ys) in panels:
    c, h = (top + bot) / 2, (bot - top) / 2 * K
    key = "yaxis" + ax[1:]
    layout[key] = dict(domain=[fy(c + h), fy(c - h)], range=[-amp * K, amp * K], visible=False,
                       anchor="x", fixedrange=True)
    # frame
    vline(ax, 0, -amp, amp)
    vline(ax, 300, -amp, amp)
    for yv in (-amp, amp):
        hline(ax, yv, 0, TL)
        hline(ax, yv, 300 - TL, 300)
        hline(ax, yv, TL, 300 - TL, color=GRID, width=1, dash="dot")
    if zw:
        hline(ax, 0, 0, 300, width=zw, layer="below")
    else:
        hline(ax, 0, 0, 300, color=GRID, width=1, dash="dot", layer="below")
    fig.add_trace(go.Scatter(x=xs, y=ys, xaxis="x", yaxis=ax, mode="lines",
                             line=dict(color="black", width=1.1), hoverinfo="skip", showlegend=False))
    # labels
    z = (top + bot) / 2
    small = amp < 2
    text(fx(97), fy(top - (2 if small else -2)), lab, size=19, xanchor="right")
    text(fx(97), fy(bot - (0 if small else 5)), "-" + lab, size=19, xanchor="right")
    text(fx(97), fy(z - 1), "0", size=19, xanchor="right")
    text(fx(82) if not small else fx(70), fy(z + udy), unit, size=usize, xanchor="right")
    text(fx(111), fy(top + ndy), name, xanchor="left")

# ---------------- intensity panel ----------------
unit_px = (1512 - 1256) / 7
layout["yaxis10"] = dict(domain=[fy(1512 + 0.25 * unit_px), fy(1256 - 0.25 * unit_px)], range=[-0.25, 7.25],
                         visible=False, anchor="x", fixedrange=True)
vline("y10", 0, 0, 7)
vline("y10", 300, 0, 7)
for lvl in range(8):
    hline("y10", lvl, 0, TL)
    hline("y10", lvl, 300 - TL, 300)
    hline("y10", lvl, TL, 300 - TL, color=GRID, width=1, dash="dot", layer="below")
    text(fx(89), fy(1512 - lvl * unit_px + 1), str(lvl))
fig.add_trace(go.Scatter(x=intensity_t, y=intensity_v, xaxis="x", yaxis="y10", mode="lines",
                         line=dict(color="black", width=3.2), hoverinfo="skip", showlegend=False))
text(fx(111), fy(1238), intensity_label, size=27, xanchor="left")

# ---------------- time strips ----------------
strip_common = dict(range=[0, 300], domain=[fx(LEFT), fx(RIGHT)], showline=True, linecolor="black",
                    linewidth=1.5, ticks="inside", ticklen=16, tickwidth=1, tickcolor="black",
                    tickmode="array", tickvals=list(range(0, 301, 10)), ticktext=time_labels,
                    tickfont=dict(size=22, family=FONT, color="black"), showgrid=False, zeroline=False,
                    fixedrange=True,
                    minor=dict(tickmode="linear", tick0=0, dtick=1, ticks="inside", ticklen=9,
                               tickwidth=1, tickcolor="black", showgrid=False))
layout["xaxis2"] = dict(strip_common, side="top", anchor="y11", ticklabelstandoff=7)
layout["yaxis11"] = dict(domain=[fy(125), fy(109)], range=[0, 1], visible=False, anchor="x2", fixedrange=True)
layout["xaxis3"] = dict(strip_common, side="bottom", anchor="y12", ticklabelstandoff=3)
layout["yaxis12"] = dict(domain=[fy(1544), fy(1528)], range=[0, 1], visible=False, anchor="x3", fixedrange=True)

for t_arr, lbl in ((p_arrival, "P"), (s_arrival, "S")):
    fig.add_trace(go.Scatter(x=[t_arr, t_arr], y=[0.375, 1], xaxis="x2", yaxis="y11", mode="lines",
                             line=dict(color=PSBLUE, width=2), hoverinfo="skip", showlegend=False))
    fig.add_trace(go.Scatter(x=[t_arr, t_arr], y=[0, 0.75], xaxis="x3", yaxis="y12", mode="lines",
                             line=dict(color=PSBLUE, width=2), hoverinfo="skip", showlegend=False))
    text(t_arr, fy(132), lbl, size=18, color=PSBLUE, xref="x2")
    text(t_arr, fy(1521), lbl, size=18, color=PSBLUE, xref="x3")

text(fx(372), fy(42), "2026/7/28 16:27:10-", size=30)
text(fx(947), fy(42), "和水町江田", size=32)

# ---------------- spectra ----------------
minor_x = [m * d for d in (0.01, 0.1, 1, 10) for m in range(2, 10) if m * d < 60]
minor_y = [m * d for d in (0.1, 1, 10, 100) for m in range(2, 10)]


def spec_axes(xkey, ykey, xname, yname, top, bot):
    layout[xkey] = dict(type="log", range=[-2, math.log10(60)], domain=[fx(1409), fx(2253)], anchor=yname,
                        showline=True, mirror=True, linecolor="black", linewidth=1.5, tickmode="array",
                        tickvals=period_ticks, showticklabels=False, ticks="", showgrid=True,
                        gridcolor="black", gridwidth=1.2, zeroline=False, fixedrange=True,
                        minor=dict(tickmode="array", tickvals=minor_x, ticks="inside", ticklen=8, tickwidth=1,
                                   tickcolor="black", showgrid=True, gridcolor=GRID, griddash="dot",
                                   gridwidth=1))
    layout[ykey] = dict(type="log", range=[-1, math.log10(3000)], domain=[fy(bot), fy(top)], anchor=xname,
                        showline=True, mirror="ticks", linecolor="black", linewidth=1.5, tickmode="array",
                        tickvals=amp_ticks, showticklabels=False, ticks="", showgrid=True,
                        gridcolor="black", gridwidth=1.5, zeroline=False, fixedrange=True,
                        minor=dict(tickmode="array", tickvals=minor_y, ticks="inside", ticklen=8, tickwidth=1,
                                   tickcolor="black", showgrid=True, gridcolor=GRID, griddash="dot",
                                   gridwidth=1))
    for v, s in zip(amp_ticks, amp_ticktext):
        text(fx(1395), math.log10(v), s, size=16, xanchor="right", yref=yname, yshift=3)
    for v, s in zip(period_ticks, period_ticktext):
        text(math.log10(v), fy(bot + 17), s, size=22, xanchor="right", xref=xname, xshift=45)
    text(fx(2182), fy(bot + 28), "sec", size=20)


spec_axes("xaxis4", "yaxis13", "x4", "y13", 126, 728.4)
spec_axes("xaxis5", "yaxis14", "x5", "y14", 911.5, 1515)

for pairs, col in ((fourier_ns, RED), (fourier_ew, GREEN), (fourier_ud, BLUE)):
    xs, ys = unzip(pairs)
    fig.add_trace(go.Scatter(x=xs, y=ys, xaxis="x4", yaxis="y13", mode="lines",
                             line=dict(color=col, width=1.8), hoverinfo="skip", showlegend=False))
for pairs, col, wd in ((resp_ns, RED, 1.6), (resp_ew, GREEN, 1.6), (resp_ud, BLUE, 1.6), (resp_h, "black", 3.2)):
    xs, ys = unzip(pairs)
    fig.add_trace(go.Scatter(x=xs, y=ys, xaxis="x5", yaxis="y14", mode="lines",
                             line=dict(color=col, width=wd), hoverinfo="skip", showlegend=False))

text(fx(1832), fy(91), "フーリエスペクトル", size=32)
text(fx(2131), fy(96), "0.4Hz band smoothing", size=21)
text(fx(1373), fy(104), "cm/sec(gal･sec)", size=16, xanchor="left")
text(fx(1830), fy(876), "相対速度応答スペクトル", size=32)
text(fx(2212), fy(880), "h=5%", size=21)
text(fx(1373), fy(889), "cm/sec", size=15, xanchor="left")


def legend_item(label, cx, x0, x1, y, col, wd=2):
    text(fx(cx), fy(y), label, size=15)
    shapes.append(dict(type="line", xref="paper", yref="paper", x0=fx(x0), x1=fx(x1), y0=fy(y + 2),
                       y1=fy(y + 2), line=dict(color=col, width=wd)))


legend_item("NS", 1667, 1691, 1752, 780, RED)
legend_item("EW", 1803, 1827, 1890, 780, GREEN)
legend_item("UD", 1942, 1965, 2027, 780, BLUE)
legend_item("NS", 1577, 1599, 1661, 1565, RED)
legend_item("EW", 1734, 1759, 1821, 1565, GREEN)
legend_item("UD", 1896, 1918, 1981, 1565, BLUE)
legend_item("Horizon", 2036, 2079, 2141, 1565, "black", 4)

fig.update_layout(width=FW, height=FH, autosize=False, margin=dict(l=0, r=0, t=0, b=0),
                  paper_bgcolor="white", plot_bgcolor="rgba(0,0,0,0)",
                  font=dict(family=FONT, color="black"), showlegend=False,
                  shapes=shapes, annotations=annotations, **layout)

fig.write_html("out.html", config={"displayModeBar": False, "staticPlot": True})
